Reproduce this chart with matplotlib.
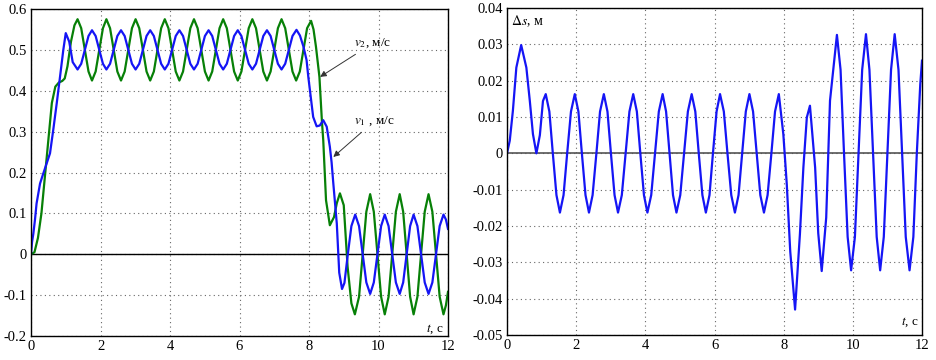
import matplotlib
matplotlib.use("Agg")
import matplotlib.pyplot as plt

plt.rcParams['font.family'] = ['Liberation Serif', 'DejaVu Serif']
plt.rcParams['mathtext.fontset'] = 'stix'
plt.rcParams['axes.unicode_minus'] = False

# v2 (green), m/s
t_v2 = [0, 0.1, 0.2, 0.3, 0.4, 0.5, 0.6, 0.7, 0.8, 0.9, 0.97, 1.05, 1.15, 1.25,
        1.34, 1.445, 1.55, 1.655, 1.755, 1.86, 1.965, 2.07,
        2.17, 2.275, 2.38, 2.485, 2.59, 2.695, 2.8, 2.905,
        3.01, 3.115, 3.22, 3.325, 3.43, 3.535, 3.64, 3.745,
        3.85, 3.955, 4.06, 4.165, 4.27, 4.375, 4.48, 4.585,
        4.69, 4.795, 4.9, 5.005, 5.11, 5.215, 5.32, 5.425,
        5.53, 5.635, 5.74, 5.845, 5.95, 6.055, 6.16, 6.265,
        6.37, 6.475, 6.58, 6.685, 6.79, 6.895, 7.0, 7.105,
        7.21, 7.315, 7.42, 7.525, 7.63, 7.735, 7.84, 7.945,
        8.06, 8.13, 8.2, 8.3, 8.37, 8.41, 8.49, 8.6, 8.72, 8.8,
        8.89, 9.0, 9.11, 9.22, 9.32, 9.44, 9.545, 9.65,
        9.76, 9.865, 9.97, 10.075, 10.18, 10.29, 10.395, 10.5,
        10.61, 10.71, 10.81, 10.91, 11.01, 11.12, 11.225, 11.33,
        11.44, 11.55, 11.655, 11.76, 11.87, 11.94, 12.0]
v2 = [0, 0.005, 0.04, 0.10, 0.19, 0.28, 0.37, 0.41, 0.42, 0.424, 0.43, 0.46, 0.52, 0.56,
      0.575, 0.553, 0.50, 0.447, 0.425, 0.447, 0.50, 0.553,
      0.575, 0.553, 0.50, 0.447, 0.425, 0.447, 0.50, 0.553,
      0.575, 0.553, 0.50, 0.447, 0.425, 0.447, 0.50, 0.553,
      0.575, 0.553, 0.50, 0.447, 0.425, 0.447, 0.50, 0.553,
      0.575, 0.553, 0.50, 0.447, 0.425, 0.447, 0.50, 0.553,
      0.575, 0.553, 0.50, 0.447, 0.425, 0.447, 0.50, 0.553,
      0.575, 0.553, 0.50, 0.447, 0.425, 0.447, 0.50, 0.553,
      0.575, 0.553, 0.50, 0.447, 0.425, 0.447, 0.50, 0.553,
      0.571, 0.55, 0.508, 0.434, 0.328, 0.279, 0.132, 0.071, 0.091, 0.125,
      0.149, 0.12, -0.03, -0.12, -0.147, -0.104, 0.0, 0.104,
      0.147, 0.104, 0.0, -0.104, -0.147, -0.104, 0.0, 0.104,
      0.147, 0.104, 0.0, -0.104, -0.147, -0.104, 0.0, 0.104,
      0.147, 0.104, 0.0, -0.104, -0.147, -0.125, -0.092]

# v1 (blue), m/s
t_v1 = [0, 0.03, 0.067, 0.115, 0.16, 0.26, 0.355, 0.45, 0.547, 0.64, 0.74, 0.835, 0.93, 1.0,
        1.1, 1.2, 1.34, 1.445, 1.55, 1.655, 1.755, 1.86, 1.965, 2.07,
        2.17, 2.275, 2.38, 2.485, 2.59, 2.695, 2.8, 2.905,
        3.01, 3.115, 3.22, 3.325, 3.43, 3.535, 3.64, 3.745,
        3.85, 3.955, 4.06, 4.165, 4.27, 4.375, 4.48, 4.585,
        4.69, 4.795, 4.9, 5.005, 5.11, 5.215, 5.32, 5.425,
        5.53, 5.635, 5.74, 5.845, 5.95, 6.055, 6.16, 6.265,
        6.37, 6.475, 6.58, 6.685, 6.79, 6.895, 7.0, 7.105,
        7.21, 7.315, 7.42, 7.525, 7.64, 7.74, 7.84, 7.93,
        7.98, 8.05, 8.12, 8.22, 8.31, 8.41, 8.51, 8.6, 8.65, 8.7, 8.8, 8.87,
        8.95, 9.02, 9.11, 9.22, 9.33, 9.44, 9.545, 9.65,
        9.76, 9.865, 9.97, 10.075, 10.18, 10.29, 10.395, 10.5,
        10.61, 10.71, 10.81, 10.91, 11.01, 11.12, 11.225, 11.33,
        11.44, 11.55, 11.655, 11.76, 11.87, 11.94, 12.0]
v1 = [0, 0.03, 0.05, 0.085, 0.124, 0.173, 0.198, 0.222, 0.247, 0.304, 0.369, 0.434, 0.50, 0.541,
      0.52, 0.47, 0.452, 0.466, 0.50, 0.534, 0.548, 0.534, 0.50, 0.466,
      0.452, 0.466, 0.50, 0.534, 0.548, 0.534, 0.50, 0.466,
      0.452, 0.466, 0.50, 0.534, 0.548, 0.534, 0.50, 0.466,
      0.452, 0.466, 0.50, 0.534, 0.548, 0.534, 0.50, 0.466,
      0.452, 0.466, 0.50, 0.534, 0.548, 0.534, 0.50, 0.466,
      0.452, 0.466, 0.50, 0.534, 0.548, 0.534, 0.50, 0.466,
      0.452, 0.466, 0.50, 0.534, 0.548, 0.534, 0.50, 0.466,
      0.452, 0.466, 0.50, 0.534, 0.549, 0.535, 0.508, 0.475,
      0.434, 0.385, 0.336, 0.313, 0.315, 0.328, 0.312, 0.263, 0.225, 0.173, 0.075, -0.045,
      -0.085, -0.07, -0.005, 0.069, 0.097, 0.069, 0.0, -0.069,
      -0.097, -0.069, 0.0, 0.069, 0.097, 0.069, 0.0, -0.069,
      -0.097, -0.069, 0.0, 0.069, 0.097, 0.069, 0.0, -0.069,
      -0.097, -0.069, 0.0, 0.069, 0.097, 0.085, 0.062]

# delta s, m
t_ds = [0, 0.08, 0.17, 0.27, 0.41, 0.56, 0.66, 0.75, 0.85, 0.95, 1.04,
        1.12, 1.225, 1.325, 1.43, 1.53, 1.635, 1.74, 1.85,
        1.96, 2.065, 2.165, 2.27, 2.37, 2.475, 2.585, 2.69,
        2.8, 2.905, 3.005, 3.11, 3.21, 3.32, 3.43, 3.54,
        3.65, 3.755, 3.855, 3.96, 4.06, 4.17, 4.28, 4.39,
        4.5, 4.6, 4.7, 4.8, 4.9, 5.01, 5.12, 5.23,
        5.34, 5.445, 5.545, 5.65, 5.75, 5.855, 5.955, 6.06,
        6.16, 6.27, 6.375, 6.485, 6.59, 6.695, 6.8, 6.905,
        7.01, 7.115, 7.22, 7.325, 7.43, 7.535, 7.645, 7.75,
        7.86, 7.99, 8.09, 8.19, 8.33, 8.47, 8.57, 8.67, 8.76,
        8.91, 9.0, 9.1, 9.23, 9.34,
        9.54, 9.645, 9.745, 9.85, 9.95, 10.06, 10.165, 10.27,
        10.38, 10.48, 10.585, 10.69, 10.79, 10.895, 11.0, 11.105,
        11.21, 11.32, 11.425, 11.53, 11.64, 11.75, 11.85, 11.95, 12.0]
ds = [0, 0.0035, 0.0117, 0.0236, 0.0298, 0.0236, 0.0144, 0.0053, 0.0, 0.005, 0.0144,
      0.0163, 0.0115, 0.0, -0.0115, -0.0163, -0.0115, 0.0, 0.0115,
      0.0163, 0.0115, 0.0, -0.0115, -0.0163, -0.0115, 0.0, 0.0115,
      0.0163, 0.0115, 0.0, -0.0115, -0.0163, -0.0115, 0.0, 0.0115,
      0.0163, 0.0115, 0.0, -0.0115, -0.0163, -0.0115, 0.0, 0.0115,
      0.0163, 0.0115, 0.0, -0.0115, -0.0163, -0.0115, 0.0, 0.0115,
      0.0163, 0.0115, 0.0, -0.0115, -0.0163, -0.0115, 0.0, 0.0115,
      0.0163, 0.0115, 0.0, -0.0115, -0.0163, -0.0115, 0.0, 0.0115,
      0.0163, 0.0115, 0.0, -0.0115, -0.0163, -0.0115, 0.0, 0.0115,
      0.0163, 0.0053, -0.0085, -0.027, -0.043, -0.0222, -0.0039, 0.0099, 0.0131,
      -0.0039, -0.022, -0.0324, -0.0177, 0.0145,
      0.0326, 0.023, 0.0, -0.023, -0.0322, -0.023, 0.0, 0.023,
      0.0328, 0.023, 0.0, -0.023, -0.0322, -0.023, 0.0, 0.023,
      0.0328, 0.023, 0.0, -0.023, -0.0322, -0.023, 0.0, 0.019, 0.0255]

xticks = [0, 2, 4, 6, 8, 10, 12]
yticks_v = [-0.2, -0.1, 0, 0.1, 0.2, 0.3, 0.4, 0.5, 0.6]
yticks_ds = [-0.05, -0.04, -0.03, -0.02, -0.01, 0, 0.01, 0.02, 0.03, 0.04]

fig = plt.figure(figsize=(9.36, 3.6), dpi=100)
ax1 = fig.add_axes([31 / 936, 24 / 360, 417 / 936, 327 / 360])
ax2 = fig.add_axes([507 / 936, 25 / 360, 415 / 936, 327 / 360])


def style(ax, yticks, fmt):
    ax.set_xlim(0, 12)
    ax.set_ylim(yticks[0], yticks[-1])
    ax.set_xticks(xticks)
    ax.set_yticks(yticks)
    ax.set_xticklabels([str(x) for x in xticks])
    ax.set_yticklabels([fmt(y) for y in yticks])
    ax.grid(True, color='#666666', linestyle=(0, (1, 3)), linewidth=0.8)
    ax.tick_params(length=0, labelsize=10.5, pad=3)
    for s in ax.spines.values():
        s.set_linewidth(1.0)
        s.set_color('black')


def fmt_v(y):
    return '0' if y == 0 else '%.1f' % y


def fmt_ds(y):
    return '0' if y == 0 else '%.2f' % y


style(ax1, yticks_v, fmt_v)
style(ax2, yticks_ds, fmt_ds)

ax1.axhline(0, color='black', linewidth=1.0)
ax1.plot(t_v2, v2, color='#078007', linewidth=1.6)
ax1.plot(t_v1, v1, color='#1515f5', linewidth=1.6)

arrow = dict(arrowstyle='-|>', color='#333333', lw=0.7, mutation_scale=9, shrinkA=2, shrinkB=0)
ax1.annotate(r'$v_2$, м/с', xy=(8.32, 0.434), xytext=(9.3, 0.51),
             fontsize=9.5, arrowprops=arrow)
ax1.annotate(r'$v_1$ , м/с', xy=(8.70, 0.238), xytext=(9.3, 0.32),
             fontsize=9.5, arrowprops=arrow)
ax1.text(11.38, -0.183, r'$t$, с', fontsize=9.5, va='center')

ax2.axhline(0, color='#555555', linewidth=1.2)
ax2.plot(t_ds, ds, color='#1515f5', linewidth=1.6)
ax2.text(0.12, 0.0363, r'$\Delta s$, м', fontsize=10, va='center')
ax2.text(11.38, -0.0465, r'$t$, с', fontsize=9.5, va='center')

fig.savefig('out.png', dpi=100)
